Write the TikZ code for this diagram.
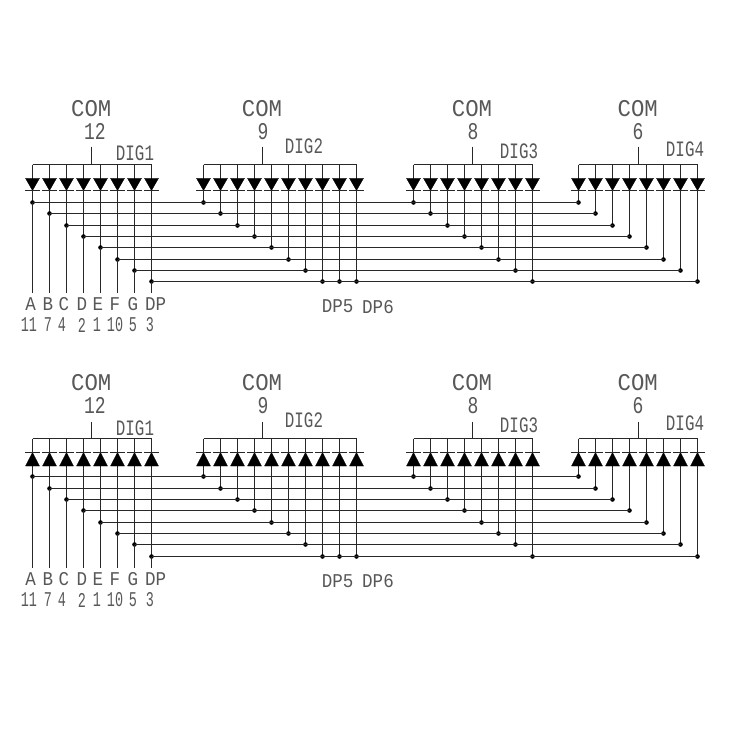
\documentclass[tikz,border=0pt]{standalone}
\usepackage{fontspec}
\newfontfamily\cadcom[FakeStretch=0.93]{Liberation Mono}
\newfontfamily\cadnum[FakeStretch=0.75]{Liberation Mono}
\newfontfamily\caddig[FakeStretch=0.72]{Liberation Mono}
\newfontfamily\cadlet[FakeStretch=0.9]{Liberation Mono}
\newfontfamily\cadpin[FakeStretch=0.64]{Liberation Mono}
\definecolor{ink}{RGB}{40,40,40}
\definecolor{lab}{RGB}{88,88,88}
\tikzset{
  wire/.style={draw=ink,line width=1.35pt},
  railwire/.style={wire},
  diodebody/.style={fill=black,draw=black,line width=0.3pt},
  diodebar/.style={draw=ink,line width=1.35pt},
  jdot/.style={fill=black,draw=none},
  lbase/.style={text=lab,inner sep=0pt,anchor=center},
  comlabel/.style={lbase,font=\cadcom\fontsize{24}{24}\selectfont},
  numlabel/.style={lbase,font=\cadnum\fontsize{24}{24}\selectfont},
  diglabel/.style={lbase,font=\caddig\fontsize{22}{22}\selectfont},
  letlabel/.style={lbase,font=\cadlet\fontsize{19.5}{20}\selectfont},
  pinlabel/.style={lbase,font=\cadpin\fontsize{21}{21}\selectfont}
}
% #1 prefix, #2 rail y, #3 stem top y, #4 bar y, #5 triangle base y, #6 bus rows, #7 lead bottom y
\newcommand{\displaypanel}[7]{%
  \foreach \k/\yy in {#6} {\coordinate (#1b\k) at (0,\yy);}
  \foreach \g/\first/\n/\sx in {1/32.3/8/91.5,2/203/10/262.5,3/413.3/8/472.5,4/578.3/8/638.5} {
    \foreach \i in {1,...,\n} {
      \pgfmathsetmacro{\xx}{floor(\first+17.03*(\i-1))+0.5}
      \pgfmathtruncatemacro{\bb}{min(\i,8)}
      \coordinate (#1g\g d\i) at (\xx,#2);
      \coordinate (#1j\g-\i) at (#1g\g d\i |- #1b\bb);
    }
    \coordinate (#1s\g) at (\sx,#3);
    \draw[railwire] (#1g\g d1) -- (#1g\g d\n);
    \draw[wire] (#1s\g) -- (#1s\g |- #1g\g d1);
    \foreach \i in {1,...,\n} {
      \draw[wire] (#1g\g d\i) -- (#1j\g-\i);
      \fill[jdot] (#1j\g-\i) circle (2.3);
    }
  }
  % bus lines, first digit to last digit
  \foreach \i in {1,...,8} {
    \draw[wire] (#1j1-\i) -- (#1j4-\i);
    \coordinate (#1l\i) at (#1j1-\i |- 0,#7);
    \draw[wire] (#1j1-\i) -- (#1l\i);
  }
  % diodes
  \foreach \g/\n in {1/8,2/10,3/8,4/8} {
    \foreach \i in {1,...,\n} {
      \path (#1g\g d\i) coordinate (tmpd);
      \fill[diodebody] (tmpd |- 0,#4) -- ++(-7,#5-#4) -- ++(14,0) -- cycle;
      \draw[diodebar] ($(tmpd |- 0,#4)+(-7.5,0)$) -- ($(tmpd |- 0,#4)+(7.5,0)$);
    }
  }
}
\usetikzlibrary{calc}
\begin{document}
\begin{tikzpicture}[x=1pt,y=-1pt]
\useasboundingbox (0,0) rectangle (750,750);
\fill[white] (0,0) rectangle (750,750);
\displaypanel{u}{164.5}{146.7}{190.5}{178.3}{1/202.5,2/213.5,3/225.5,4/236.5,5/247.5,6/259.5,7/270.5,8/281.5}{293}
\displaypanel{d}{438.5}{421.7}{452.5}{466}{1/476.5,2/488.5,3/499.5,4/510.5,5/522.5,6/533.5,7/544.5,8/556.5}{568.3}
% upper labels
\node[comlabel] (uc1) at (91.3,109) {COM};
\node[comlabel] (uc2) at (262,109) {COM};
\node[comlabel] (uc3) at (472,109) {COM};
\node[comlabel] (uc4) at (637.7,109) {COM};
\node[numlabel] (un1) at (95,131.7) {12};
\node[numlabel] (un2) at (263,131.5) {9};
\node[numlabel] (un3) at (473,131.5) {8};
\node[numlabel] (un4) at (638,131.5) {6};
\node[diglabel] (ud1) at (135,153.7) {DIG1};
\node[diglabel] (ud2) at (304,146.7) {DIG2};
\node[diglabel] (ud3) at (519,151) {DIG3};
\node[diglabel] (ud4) at (685,149) {DIG4};
\foreach \nm/\xx/\tx in {a/30.7/A,b/48/B,c/64/C,d/82/D,e/98/E,f/115/F,g/133/G,p/155.7/DP} {
  \node[letlabel] (ul\nm) at (\xx,304) {\tx};
  \node[letlabel] (dl\nm) at (\xx,579) {\tx};
}
\foreach \nm/\xx/\tx in {a/29/11,b/48/7,c/62/4,d/82/2,e/97/1,f/115/10,g/133/5,p/150/3} {
  \node[pinlabel] (up\nm) at (\xx,325) {\tx};
  \node[pinlabel] (dp\nm) at (\xx,600) {\tx};
}
\node[letlabel] (udp5) at (337.7,306) {DP5};
\node[letlabel] (udp6) at (378,307) {DP6};
% lower labels
\node[comlabel] (dc1) at (91.3,383) {COM};
\node[comlabel] (dc2) at (262,383) {COM};
\node[comlabel] (dc3) at (472,383) {COM};
\node[comlabel] (dc4) at (637.7,383) {COM};
\node[numlabel] (dn1) at (95,405.7) {12};
\node[numlabel] (dn2) at (263,405.5) {9};
\node[numlabel] (dn3) at (473,405.5) {8};
\node[numlabel] (dn4) at (638,405.5) {6};
\node[diglabel] (dd1) at (135,428) {DIG1};
\node[diglabel] (dd2) at (304,420.7) {DIG2};
\node[diglabel] (dd3) at (519,425.3) {DIG3};
\node[diglabel] (dd4) at (685,423.3) {DIG4};
\node[letlabel] (ddp5) at (337.7,580.7) {DP5};
\node[letlabel] (ddp6) at (378,581.3) {DP6};
\end{tikzpicture}
\end{document}
